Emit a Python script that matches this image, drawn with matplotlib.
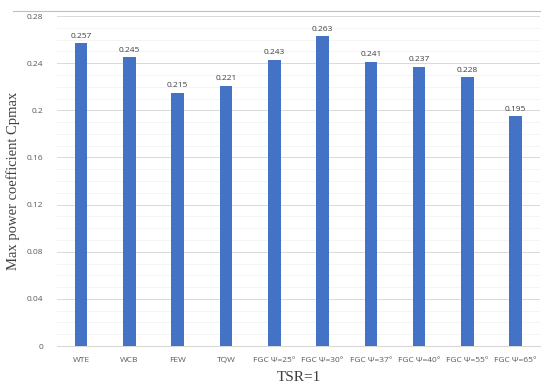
import matplotlib
matplotlib.use("Agg")
import matplotlib.pyplot as plt
from matplotlib.lines import Line2D
import numpy as np

categories = ["WTE", "WCB", "FEW", "TQW", "FGC \u03a8=25\u00b0", "FGC \u03a8=30\u00b0",
              "FGC \u03a8=37\u00b0", "FGC \u03a8=40\u00b0", "FGC \u03a8=55\u00b0", "FGC \u03a8=65\u00b0"]
cpmax = [0.257, 0.245, 0.215, 0.221, 0.243, 0.263, 0.241, 0.237, 0.228, 0.195]
yticks = [0, 0.04, 0.08, 0.12, 0.16, 0.2, 0.24, 0.28]
ytick_labels = ["0", "0.04", "0.08", "0.12", "0.16", "0.2", "0.24", "0.28"]

fig = plt.figure(figsize=(5.5, 3.91), dpi=100)
ax = fig.add_axes([0.1036, 0.115, 0.878, 0.844])

x = np.arange(len(categories))
ax.bar(x, cpmax, width=0.26, color="#4472C4", zorder=3)
for xi, v in zip(x, cpmax):
    ax.text(xi, v + 0.003, f"{v:.3f}", ha="center", va="bottom",
            fontsize=6, color="#404040", family="Open Sans")

ax.set_xlim(-0.5, len(categories) - 0.5)
ax.set_ylim(0, 0.28)
ax.set_yticks(yticks)
ax.set_yticklabels(ytick_labels)
ax.set_yticks(np.arange(0, 0.281, 0.01), minor=True)
ax.grid(axis="y", which="major", color="#d9d9d9", linewidth=0.7, zorder=0)
ax.grid(axis="y", which="minor", color="#f2f2f2", linewidth=0.6, zorder=0)
ax.set_xticks(x)
ax.set_xticklabels(categories)
ax.tick_params(axis="both", which="both", length=0, labelsize=6, colors="#595959")
ax.tick_params(axis="x", pad=8)
ax.tick_params(axis="y", pad=10)
for lbl in ax.get_xticklabels() + ax.get_yticklabels():
    lbl.set_family("Open Sans")

for s in ["top", "right", "left"]:
    ax.spines[s].set_visible(False)
ax.spines["bottom"].set_color("#d9d9d9")

ax.set_xlabel("TSR=1", family="Liberation Serif", fontsize=11, color="#404040", labelpad=5)
ax.set_ylabel("Max power coefficient Cpmax", family="Liberation Serif", fontsize=10.5,
              color="#404040", labelpad=5)

fig.add_artist(Line2D([13 / 550, 540 / 550], [1 - 11 / 391, 1 - 11 / 391],
                      color="#bfbfbf", linewidth=0.8))

fig.savefig("out.png", dpi=100)
